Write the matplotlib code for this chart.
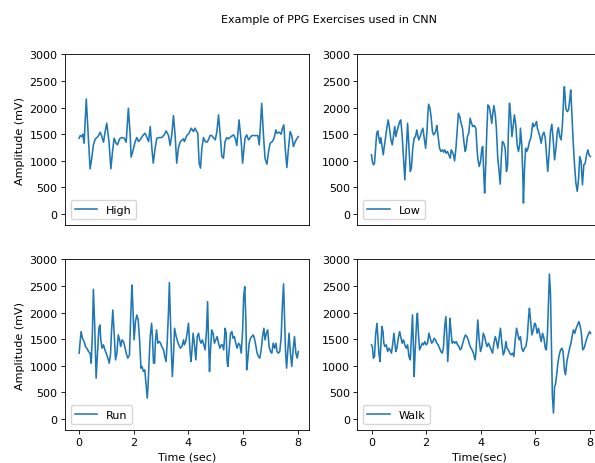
import matplotlib
matplotlib.use("Agg")
import matplotlib.pyplot as plt

# the reference was drawn at a smaller pixel-per-point scale; shrink defaults to match
S = 0.763
FS = 8.0
plt.rcParams.update({
    "font.size": FS,
    "axes.linewidth": 0.8 * S,
    "lines.linewidth": 1.5 * S,
    "xtick.major.size": 3.5 * S,
    "ytick.major.size": 3.5 * S,
    "xtick.major.width": 0.8 * S,
    "ytick.major.width": 0.8 * S,
    "xtick.major.pad": 3.5 * S,
    "ytick.major.pad": 3.5 * S,
    "axes.labelpad": 4 * S,
    "legend.fontsize": FS,
})

# ---- data (time in seconds, amplitude in mV) ----
HIGH_T = [0.00, 0.04, 0.10, 0.13, 0.18, 0.26, 0.33, 0.40, 0.46, 0.52, 0.59, 0.65, 0.71, 0.77, 0.83,
          0.89, 0.95, 1.01, 1.09, 1.16, 1.22, 1.28, 1.35, 1.40, 1.48, 1.56, 1.65, 1.72, 1.80, 1.87,
          1.90, 1.96, 2.05, 2.11, 2.17, 2.23, 2.33, 2.41, 2.48, 2.54, 2.60, 2.66, 2.71, 2.78, 2.84,
          2.94, 3.02, 3.11, 3.18, 3.27, 3.33, 3.39, 3.45, 3.51, 3.57, 3.63, 3.70, 3.82,
          3.85, 3.94, 4.02, 4.10, 4.18, 4.24, 4.30, 4.34, 4.39, 4.44, 4.49, 4.55, 4.61, 4.67, 4.73,
          4.79, 4.85, 4.91, 4.98, 5.04, 5.10, 5.16, 5.22, 5.28, 5.34, 5.40, 5.46, 5.56, 5.65, 5.71,
          5.77, 5.85, 5.93, 5.98, 6.02, 6.07, 6.13, 6.20, 6.26, 6.32, 6.44, 6.54, 6.59, 6.68, 6.74,
          6.80, 6.87, 6.93, 6.99, 7.07, 7.13, 7.20, 7.24, 7.32, 7.39, 7.44, 7.49, 7.54, 7.60, 7.66,
          7.72, 7.78, 7.84, 7.90, 7.96, 8.02]
HIGH_MV = [1425, 1475, 1456, 1500, 1331, 2163, 1488, 850, 1050, 1300, 1413, 1438, 1475, 1538, 1456,
           1350, 1550, 1706, 1363, 850, 1175, 1425, 1331, 1300, 1413, 1438, 1425, 1350, 1988, 1456,
           1069, 1175, 1363, 1438, 1363, 1394, 1475, 1519, 1438, 1363, 1644, 1238, 956, 1238, 1425,
           1438, 1438, 1488, 1563, 1475, 1288, 1488, 1850, 1488, 956, 1238, 1363, 1413,
           1363, 1475, 1519, 1613, 1550, 1613, 1550, 1519, 956, 863, 1238, 1438, 1363, 1350, 1394,
           1475, 1475, 1438, 1394, 1550, 1863, 1488, 1081, 1050, 1363, 1438, 1413, 1456, 1488, 1425,
           1288, 1769, 1363, 956, 1175, 1425, 1488, 1394, 1438, 1475, 1475, 1475, 1300, 2081, 1519,
           1050, 938, 1175, 1331, 1363, 1425, 1581, 1519, 1538, 1500, 1613, 1675, 1238, 875, 1238,
           1550, 1475, 1269, 1350, 1413, 1456]

LOW_T = [0.00, 0.03, 0.07, 0.11, 0.15, 0.19, 0.23, 0.27, 0.31, 0.34, 0.38, 0.43, 0.46, 0.51, 0.56,
         0.61, 0.66, 0.71, 0.76, 0.81, 0.85, 0.89, 0.93, 0.98, 1.03, 1.07, 1.12, 1.17, 1.22, 1.27,
         1.32, 1.37, 1.42, 1.46, 1.51, 1.56, 1.61, 1.66, 1.70, 1.73, 1.78, 1.83, 1.88, 1.93, 1.98,
         2.03, 2.06, 2.09, 2.14, 2.18, 2.23, 2.27, 2.32, 2.36, 2.39, 2.44, 2.49, 2.54, 2.59, 2.64,
         2.68, 2.73, 2.78, 2.83, 2.88, 2.92, 2.95, 3.00, 3.04, 3.09, 3.14, 3.18, 3.23, 3.28, 3.33,
         3.38, 3.43, 3.46, 3.51, 3.56, 3.61, 3.66, 3.71, 3.76,
         3.82, 3.86, 3.89, 3.94, 3.99, 4.04, 4.07, 4.11, 4.14, 4.18, 4.22, 4.26, 4.31, 4.36, 4.40,
         4.44, 4.48, 4.53, 4.57, 4.62, 4.67, 4.71, 4.75, 4.79, 4.84, 4.89, 4.94, 4.98, 5.01, 5.05,
         5.09, 5.14, 5.19, 5.23, 5.28, 5.33, 5.38, 5.43, 5.45, 5.50, 5.54, 5.56, 5.60, 5.64, 5.68,
         5.73, 5.78, 5.83, 5.87, 5.90, 5.94, 5.99, 6.04, 6.07, 6.11, 6.16, 6.21, 6.26, 6.31, 6.36,
         6.40, 6.45, 6.50, 6.55, 6.60, 6.65, 6.70, 6.75, 6.80, 6.84, 6.89, 6.94, 6.99, 7.04, 7.06,
         7.11, 7.16, 7.21, 7.26, 7.29, 7.33, 7.38, 7.43, 7.48, 7.53, 7.58, 7.62, 7.67, 7.72, 7.77,
         7.82, 7.87, 7.92, 7.96, 8.01]
LOW_MV = [1113, 988, 925, 956, 1238, 1519, 1563, 1425, 1331, 1438, 1300, 1113, 1238, 1425, 1613,
          1769, 1613, 1394, 1300, 1488, 1644, 1456, 1550, 1644, 1738, 1769, 1488, 1050, 644, 1175,
          1706, 1238, 800, 863, 1238, 1425, 1456, 1581, 1456, 1394, 1456, 1550, 1613, 1425, 1238,
          1550, 1863, 2063, 1988, 1831, 1550, 1488, 1519, 1581, 1663, 1456, 1238, 1175, 1206, 1163,
          1206, 1144, 1175, 1113, 1050, 1206, 1175, 1113, 1000, 1238, 1613, 1894, 1831, 1706, 1613,
          1363, 1175, 1238, 1456, 1519, 1800, 1706, 1644, 1663,
          1613, 1238, 1050, 894, 988, 1238, 1269, 738, 394, 925, 1550, 2050, 2019, 1863, 1706,
          1894, 2038, 1863, 1613, 1050, 800, 563, 1050, 1363, 1331, 1238, 800, 925, 1550, 2081,
          1863, 1456, 1675, 1863, 1675, 1300, 1175, 1331, 1613, 1300, 675, 206, 863, 1238, 1175,
          1238, 1363, 1425, 1581, 1706, 1644, 1675, 1738, 1613, 1550, 1456, 1331, 1488, 1538, 1425,
          1144, 800, 1144, 1550, 1688, 1394, 1019, 1238, 1550, 1625, 1456, 1394, 1706, 2300, 2394,
          1988, 1925, 1956, 2175, 2331, 1925, 1363, 925, 581, 425, 675, 1081, 988, 550, 925,
          956, 1113, 1206, 1113, 1081]

RUN_T = [0.00, 0.04, 0.07, 0.12, 0.18, 0.23, 0.28, 0.34, 0.40, 0.44, 0.48, 0.52, 0.57, 0.62, 0.67,
         0.72, 0.76, 0.79, 0.84, 0.89, 0.94, 0.99, 1.05, 1.10, 1.15, 1.18, 1.23, 1.28, 1.33, 1.38,
         1.43, 1.48, 1.52, 1.57, 1.62, 1.67, 1.72, 1.78, 1.84, 1.89, 1.93, 1.96, 2.01, 2.06, 2.11,
         2.16, 2.21, 2.26, 2.30, 2.35, 2.40, 2.45, 2.49, 2.52, 2.56, 2.60, 2.65, 2.68, 2.72, 2.76,
         2.79, 2.83, 2.88, 2.93, 2.98, 3.02, 3.09, 3.13, 3.18, 3.22, 3.27, 3.30, 3.34, 3.38, 3.41,
         3.45, 3.49, 3.55, 3.62, 3.70, 3.76, 3.82,
         3.85, 3.90, 3.95, 4.00, 4.05, 4.09, 4.12, 4.17, 4.22, 4.27, 4.32, 4.37, 4.41, 4.46, 4.51,
         4.56, 4.61, 4.66, 4.70, 4.73, 4.77, 4.80, 4.85, 4.90, 4.95, 5.00, 5.05, 5.10, 5.15, 5.20,
         5.24, 5.29, 5.34, 5.38, 5.41, 5.44, 5.49, 5.54, 5.59, 5.63, 5.68, 5.73, 5.78, 5.83, 5.88,
         5.93, 5.98, 6.02, 6.06, 6.10, 6.13, 6.17, 6.22, 6.27, 6.32, 6.37, 6.41, 6.46, 6.51, 6.56,
         6.61, 6.66, 6.71, 6.76, 6.80, 6.85, 6.90, 6.95, 7.00, 7.05, 7.10, 7.15, 7.20, 7.24, 7.29,
         7.34, 7.39, 7.44, 7.48, 7.51, 7.55, 7.59, 7.63, 7.68, 7.73, 7.78, 7.83, 7.88, 7.93, 7.98,
         8.02]
RUN_MV = [1238, 1488, 1644, 1519, 1456, 1363, 1331, 1269, 1238, 1050, 1550, 2438, 1738, 769, 1238,
          1706, 1769, 1488, 1331, 1394, 1300, 1238, 1144, 1050, 1238, 1613, 2050, 1613, 1113, 1238,
          1581, 1488, 1363, 1488, 1456, 1363, 1238, 1144, 1206, 1988, 2519, 2175, 1488, 1831, 1956,
          1863, 1488, 956, 988, 894, 925, 644, 394, 613, 1113, 1550, 1800, 1550, 1050, 1050,
          1456, 1675, 1425, 1456, 1425, 1363, 1300, 1175, 1081, 1425, 2050, 2563, 1863, 1175, 800,
          1175, 1706, 1550, 1425, 1331, 1363, 1488,
          1394, 1456, 1613, 1800, 1331, 1081, 1238, 1613, 1394, 1113, 1550, 1613, 1488, 1425, 1488,
          1394, 1300, 1675, 2206, 1550, 894, 1238, 1675, 1613, 1425, 1488, 1550, 1425, 1331, 1394,
          1394, 1300, 1706, 1613, 1113, 988, 1300, 1613, 1644, 1519, 1550, 1425, 1331, 1425, 1394,
          1238, 1644, 2300, 2488, 1863, 925, 1113, 1425, 1519, 1550, 1581, 1519, 1394, 1238, 1175,
          1144, 1300, 1550, 1706, 1488, 1613, 1675, 1363, 1269, 1238, 1425, 1331, 1425, 1269, 1238,
          1269, 1519, 2175, 2538, 1988, 1300, 956, 1238, 1613, 1238, 988, 1300, 1550, 1238, 1144,
          1269]

WALK_T = [0.00, 0.03, 0.07, 0.11, 0.15, 0.20, 0.23, 0.27, 0.31, 0.34, 0.38, 0.42, 0.45, 0.49, 0.54,
          0.59, 0.64, 0.68, 0.73, 0.78, 0.82, 0.85, 0.89, 0.93, 0.98, 1.03, 1.07, 1.12, 1.17, 1.22,
          1.27, 1.32, 1.37, 1.42, 1.46, 1.50, 1.54, 1.56, 1.60, 1.65, 1.68, 1.72, 1.76, 1.81, 1.86,
          1.90, 1.95, 2.00, 2.05, 2.10, 2.15, 2.20, 2.25, 2.29, 2.34, 2.39, 2.44, 2.49, 2.54, 2.59,
          2.63, 2.68, 2.72, 2.76, 2.79, 2.83, 2.87, 2.90, 2.95, 3.00, 3.05, 3.10, 3.15, 3.20, 3.25,
          3.29, 3.34, 3.39, 3.44, 3.49, 3.54, 3.59, 3.64, 3.68, 3.73, 3.79,
          3.82, 3.87, 3.89, 3.94, 3.99, 4.04, 4.09, 4.14, 4.19, 4.23, 4.28, 4.33, 4.38, 4.43, 4.48,
          4.53, 4.58, 4.62, 4.67, 4.72, 4.77, 4.82, 4.87, 4.92, 4.96, 5.01, 5.06, 5.11, 5.16, 5.21,
          5.26, 5.31, 5.35, 5.40, 5.45, 5.50, 5.55, 5.60, 5.65, 5.70, 5.75, 5.78, 5.82, 5.87, 5.92,
          5.97, 6.01, 6.06, 6.11, 6.16, 6.21, 6.26, 6.31, 6.36, 6.40, 6.44, 6.48, 6.51, 6.55, 6.59,
          6.62, 6.66, 6.70, 6.73, 6.77, 6.82, 6.87, 6.92, 6.97, 7.01, 7.06, 7.10, 7.15, 7.20, 7.25,
          7.30, 7.34, 7.39, 7.44, 7.49, 7.54, 7.59, 7.64, 7.68, 7.73, 7.78, 7.83, 7.88, 7.93, 7.98,
          8.02]
WALK_MV = [1394, 1363, 1144, 1175, 1581, 1800, 1550, 1238, 1081, 1363, 1738, 1644, 1425, 1363, 1394,
           1269, 1331, 1300, 1238, 1425, 1613, 1456, 1269, 1331, 1519, 1644, 1550, 1425, 1488, 1394,
           1331, 1394, 1175, 1113, 1550, 1956, 1238, 800, 1300, 1831, 1988, 1581, 1300, 1363, 1425,
           1394, 1456, 1394, 1425, 1613, 1519, 1425, 1456, 1519, 1488, 1425, 1394, 1331, 1269, 1238,
           1331, 1738, 1925, 1550, 1081, 1425, 1894, 1706, 1425, 1456, 1425, 1456, 1394, 1363, 1300,
           1331, 1425, 1519, 1581, 1550, 1488, 1394, 1331, 1300, 1238, 1113,
           1238, 1675, 1863, 1488, 1269, 1363, 1613, 1550, 1425, 1363, 1425, 1363, 1300, 1238, 1425,
           1550, 1456, 1331, 1519, 1706, 1425, 1206, 1269, 1456, 1331, 1300, 1238, 1206, 1238, 1175,
           1488, 1706, 1613, 1488, 1550, 1331, 1269, 1331, 1363, 1519, 1925, 2081, 1863, 1581, 1675,
           1800, 1769, 1613, 1706, 1581, 1456, 1613, 1519, 1331, 1300, 1613, 2238, 2725, 2363, 1238,
           425, 113, 613, 644, 800, 1050, 1206, 1300, 1331, 1269, 925, 831, 1081, 1206, 1331,
           1425, 1550, 1675, 1613, 1706, 1769, 1831, 1738, 1613, 1300, 1331, 1425, 1519, 1581, 1644,
           1613]

LABELS = ["High", "Low", "Run", "Walk"]
SERIES = [(HIGH_T, HIGH_MV), (LOW_T, LOW_MV), (RUN_T, RUN_MV), (WALK_T, WALK_MV)]
Y_TICKS = [0, 500, 1000, 1500, 2000, 2500, 3000]
X_TICKS = [0, 2, 4, 6, 8]

fig = plt.figure(figsize=(5.95, 4.64), dpi=100)
W, H = 0.4101, 0.3670
positions = [
    [0.1092, 0.5136, W, H],   # top left
    [0.6005, 0.5136, W, H],   # top right (runs off the right edge, like the reference)
    [0.1092, 0.0718, W, H],   # bottom left
    [0.6005, 0.0718, W, H],   # bottom right
]

axes = []
for i, (pos, label, (t, mv)) in enumerate(zip(positions, LABELS, SERIES)):
    ax = fig.add_axes(pos)
    ax.plot(t, mv, color="#1f77b4", label=label)
    ax.set_xlim(-0.52, 8.41)
    ax.set_ylim(-200, 3000)
    ax.set_yticks(Y_TICKS)
    ax.set_xticks(X_TICKS)
    ax.legend(loc="lower left")
    if i < 2:
        ax.tick_params(axis="x", bottom=False, labelbottom=False)
    if i % 2 == 0:
        ax.set_ylabel("Amplitude (mV)")
    axes.append(ax)

axes[2].set_xlabel("Time (sec)")
axes[3].set_xlabel("Time(sec)")

fig.text(0.553, 0.957, "Example of PPG Exercises used in CNN",
         ha="center", va="center", fontsize=FS)

fig.savefig("out.png", dpi=100)
